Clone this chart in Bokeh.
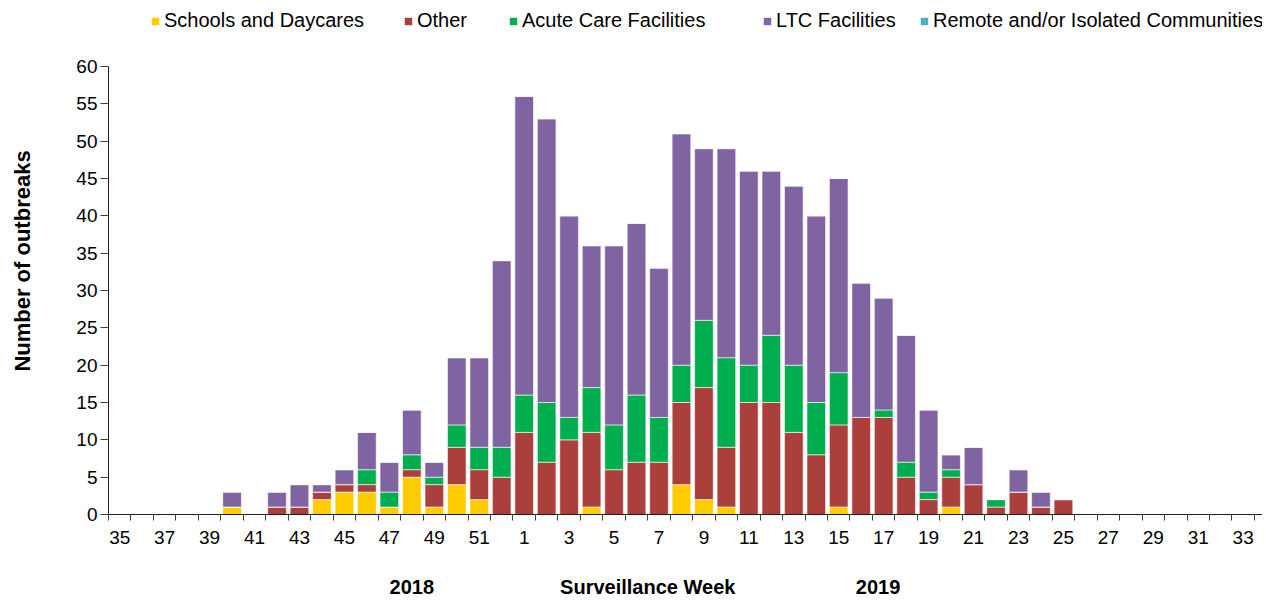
from bokeh.plotting import figure
from bokeh.models import (ColumnDataSource, Range1d, FixedTicker, LinearAxis,
                          Legend, LegendItem)
from bokeh.embed import file_html
from bokeh.resources import INLINE

# ---- data -------------------------------------------------------------
weeks = list(range(35, 53)) + list(range(1, 35))

schools = [0, 0, 0, 0, 0, 1, 0, 0, 0, 2, 3, 3, 1, 5, 1, 4, 2, 0,
           0, 0, 0, 1, 0, 0, 0, 4, 2, 1, 0, 0, 0, 0, 1, 0, 0, 0, 0, 1,
           0, 0, 0, 0, 0, 0, 0, 0, 0, 0, 0, 0, 0, 0]
other = [0, 0, 0, 0, 0, 0, 0, 1, 1, 1, 1, 1, 0, 1, 3, 5, 4, 5,
         11, 7, 10, 10, 6, 7, 7, 11, 15, 8, 15, 15, 11, 8, 11, 13, 13, 5, 2, 4,
         4, 1, 3, 1, 2, 0, 0, 0, 0, 0, 0, 0, 0, 0]
acute = [0, 0, 0, 0, 0, 0, 0, 0, 0, 0, 0, 2, 2, 2, 1, 3, 3, 4,
         5, 8, 3, 6, 6, 9, 6, 5, 9, 12, 5, 9, 9, 7, 7, 0, 1, 2, 1, 1,
         0, 1, 0, 0, 0, 0, 0, 0, 0, 0, 0, 0, 0, 0]
ltc = [0, 0, 0, 0, 0, 2, 0, 2, 3, 1, 2, 5, 4, 6, 2, 9, 12, 25,
       40, 38, 27, 19, 24, 23, 20, 31, 23, 28, 26, 22, 24, 25, 26, 18, 15, 17, 11, 2,
       5, 0, 3, 2, 0, 0, 0, 0, 0, 0, 0, 0, 0, 0]
remote = [0] * 52

series_names = ["Schools and Daycares", "Other", "Acute Care Facilities",
                "LTC Facilities", "Remote and/or Isolated Communities"]
series_keys = ["schools", "other", "acute", "ltc", "remote"]
colors = ["#FFCC00", "#AA3F3C", "#00AE4F", "#8064A2", "#4BACC6"]

year_labels = ["2018", "Surveillance Week", "2019"]
year_pos = [13, 23.5, 33.75]

# ---- figure -----------------------------------------------------------
x = list(range(len(weeks)))
src = ColumnDataSource(dict(x=x, schools=schools, other=other, acute=acute,
                            ltc=ltc, remote=remote))

FONT = "Liberation Sans"

# frame extends above 60 so the legend row can live inside it;
# the y axis itself is bounded to 0..60
p = figure(width=1262, height=601, output_backend="svg", toolbar_location=None,
           x_range=Range1d(-0.5, 50.86), y_range=Range1d(0, 67.9),
           min_border_left=108, min_border_right=0, min_border_top=7,
           min_border_bottom=87, outline_line_color=None)
p.grid.visible = False
p.background_fill_color = "white"

rs = p.vbar_stack(series_keys, x="x", width=0.83, color=colors, source=src,
                  line_color="white", line_alpha=0.6, line_width=1)

# x axis: labels at odd weeks, tick marks between categories
xa = p.xaxis[0]
label_idx = [i for i in x if i % 2 == 0 and i <= 50]
xa.ticker = FixedTicker(ticks=label_idx,
                        minor_ticks=[i - 0.5 for i in range(len(weeks) + 1)])
xa.major_label_overrides = {i: str(weeks[i]) for i in label_idx}
xa.major_tick_out = 0
xa.major_tick_in = 0
xa.minor_tick_out = 6
xa.minor_tick_in = 0
xa.minor_tick_line_color = "#404040"
xa.axis_line_color = "#202020"
xa.major_label_text_font = FONT
xa.major_label_text_font_size = "19px"
xa.major_label_text_color = "black"
xa.major_label_standoff = 10

# second axis carrying year labels and the title on one row
xa2 = LinearAxis(ticker=FixedTicker(ticks=year_pos),
                 major_label_overrides=dict(zip(year_pos, year_labels)))
xa2.axis_line_color = None
xa2.major_tick_line_color = None
xa2.minor_tick_line_color = None
xa2.major_label_text_font = FONT
xa2.major_label_text_font_style = "bold"
xa2.major_label_text_font_size = "20px"
xa2.major_label_text_color = "black"
xa2.major_label_standoff = 23
p.add_layout(xa2, "below")

# y axis
ya = p.yaxis[0]
ya.bounds = (0, 60)
ya.ticker = FixedTicker(ticks=list(range(0, 61, 5)))
ya.major_tick_out = 8
ya.major_tick_in = 0
ya.minor_tick_line_color = None
ya.major_tick_line_color = "#404040"
ya.axis_line_color = "#202020"
ya.major_label_text_font = FONT
ya.major_label_text_font_size = "19px"
ya.major_label_text_color = "black"
ya.major_label_standoff = 3
ya.axis_label = "Number of outbreaks"
ya.axis_label_text_font = FONT
ya.axis_label_text_font_size = "22px"
ya.axis_label_text_font_style = "bold"
ya.axis_label_text_color = "black"
ya.axis_label_standoff = 38

# one single-item legend per series, in the top strip of the frame
leg_x = [42, 295, 400, 654, 811]
for n, r, lx in zip(series_names, rs, leg_x):
    lg = Legend(items=[LegendItem(label=n, renderers=[r])],
                location=(lx, 482),
                label_text_font=FONT, label_text_font_size="20px",
                label_text_color="black", glyph_width=10, glyph_height=10,
                label_standoff=4, padding=0, margin=0,
                border_line_alpha=0, background_fill_alpha=0)
    p.add_layout(lg, "center")

open("out.html", "w").write(file_html(p, INLINE))
